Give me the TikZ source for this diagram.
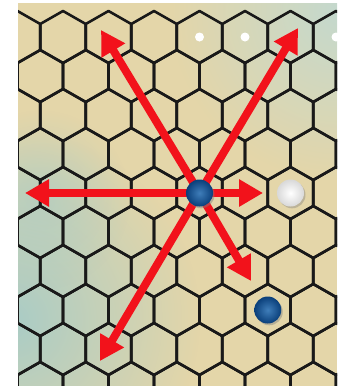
\documentclass[tikz,border=0pt]{standalone}
\usetikzlibrary{arrows.meta,fadings,shadows}
\definecolor{boardtan}{HTML}{E4D6A9}
\definecolor{boardteal}{HTML}{A9CCC6}
\definecolor{boardmist}{HTML}{C4D9CE}
\definecolor{movered}{HTML}{F2121B}
\definecolor{pieceblue}{HTML}{0F5DA8}
\definecolor{pieceblue2}{HTML}{0A3F7A}
\tikzfading[name=softspot,inner color=transparent!0,outer color=transparent!100]

\tikzset{
  hexline/.style={draw=black!90,line width=2.6pt,line join=round},
  movearrow/.style={movered,line width=8pt,-{Triangle[length=24pt,width=26pt]}},
  bluepiece/.style={circle,minimum size=27pt,inner sep=0pt,
    inner color=pieceblue!80!white,outer color=pieceblue2,
    drop shadow={shadow xshift=1.5pt,shadow yshift=-1.8pt,opacity=0.45}},
  whitepiece/.style={circle,minimum size=27pt,inner sep=0pt,
    inner color=white,outer color=black!15,
    drop shadow={shadow xshift=1.5pt,shadow yshift=-1.8pt,opacity=0.4}}
}

\begin{document}
\begin{tikzpicture}[x=1pt,y=-1pt]
\useasboundingbox (0,0) rectangle (340,386);
\fill[white] (0,0) rectangle (340,386);
\begin{scope}
\clip (18,3) rectangle (337,386);
\fill[boardtan] (18,3) rectangle (337,386);
% Teal patches of the board
\fill[boardmist,path fading=softspot] (340,10) circle (170);
\fill[boardteal,path fading=softspot] (10,320) circle (190);
\fill[boardteal,opacity=0.6,path fading=softspot] (40,200) circle (90);
% Hex grid
\foreach \r in {0,...,9} {
  \foreach \k in {-1,...,7} {
    \pgfmathsetmacro\cx{63+45.5*\k-22.75*mod(\r,2)}
    \pgfmathsetmacro\cy{37+39*\r}
    \draw[hexline,shift={(\cx,\cy)}] (0,-26) -- (22.75,-13) -- (22.75,13)
      -- (0,26) -- (-22.75,13) -- (-22.75,-13) -- cycle;
  }
}
\end{scope}
% Small marks on the top row
\foreach \x in {199.5,245,336} {
  \fill[white] (\x,37) circle (4.5);
}
\node[whitepiece] (whiteA) at (290.5,193) {};
\node[bluepiece] (blueB) at (267.75,310) {};
% Moves of the blue piece
\coordinate (src) at (199.5,193);
\coordinate (tipNW) at (101,30);
\coordinate (tipNE) at (298,28);
\coordinate (tipW) at (25,193);
\coordinate (tipE) at (263,193);
\coordinate (tipSE) at (251,281);
\coordinate (tipSW) at (100,361);
\foreach \t in {tipNW,tipNE,tipW,tipE,tipSE,tipSW} {
  \draw[movearrow] (src) -- (\t);
}
\node[bluepiece] (blueA) at (src) {};
\end{tikzpicture}
\end{document}
